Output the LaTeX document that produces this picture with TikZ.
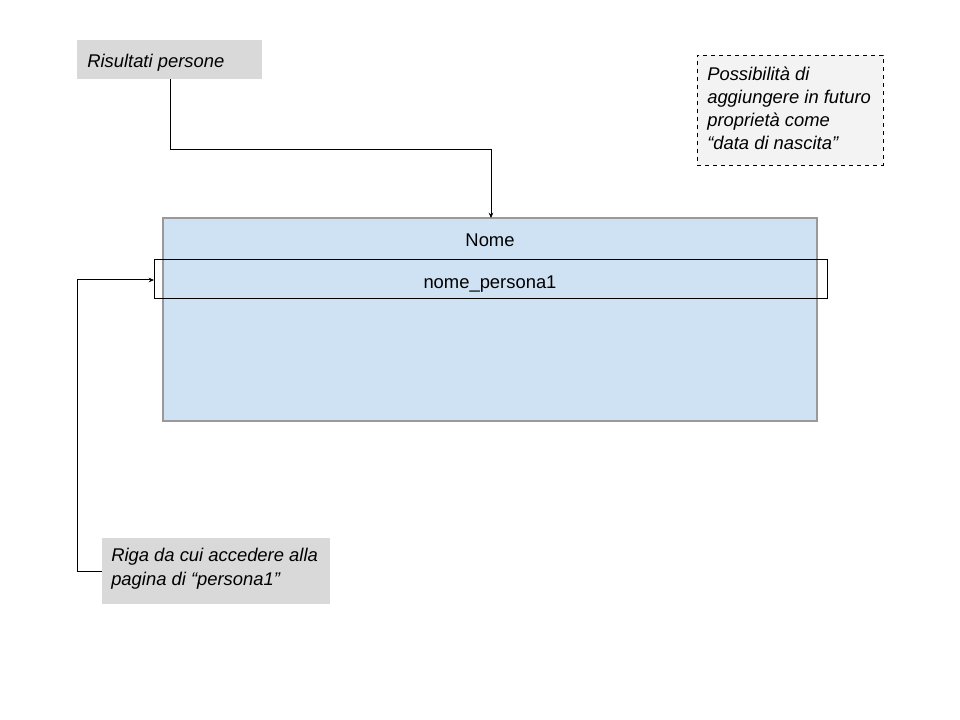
\documentclass[tikz,border=0pt]{standalone}
\usepackage{fontspec}
\setmainfont{Liberation Sans}
\usetikzlibrary{arrows.meta}
\definecolor{greybox}{HTML}{D9D9D9}
\definecolor{notefill}{HTML}{F3F3F3}
\definecolor{tablefill}{HTML}{CFE2F3}
\definecolor{tableborder}{HTML}{999999}
\begin{document}
\begin{tikzpicture}[x=0.75pt,y=-0.75pt,
  labelbox/.style={fill=greybox, draw=none, inner sep=0pt},
  txt/.style={font=\fontsize{13.8}{17.4}\selectfont, inner sep=0pt},
  itxt/.style={font=\fontsize{13.8}{17.4}\selectfont\itshape, inner sep=0pt},
  conn/.style={draw=black, line width=0.75pt, -{Stealth[length=4pt,width=3.5pt]}}]
\useasboundingbox (0,0) rectangle (960,720);
% Risultati persone
\node[labelbox, minimum width=185*0.75pt, minimum height=39*0.75pt] (ris) at (169.5,59.5) {};
\node[itxt, anchor=base west] (ristxt) at (87,67.5) {Risultati persone};
% note
\node[draw=black, dashed, fill=notefill, line width=0.6pt, minimum width=186*0.75pt, minimum height=110*0.75pt, inner sep=0pt] (note) at (790,110) {};
\node[itxt, anchor=base west, align=left] (notetxt) at (707,150) {Possibilità di\\aggiungere in futuro\\proprietà come\\“data di nascita”};
% table
\node[draw=tableborder, fill=tablefill, line width=0.9pt, minimum width=654*0.75pt, minimum height=203*0.75pt, inner sep=0pt] (table) at (490,319.5) {};
\node[txt, anchor=base] (nome) at (490,247) {Nome};
\node[draw=black, line width=0.75pt, minimum width=673*0.75pt, minimum height=39*0.75pt, inner sep=0pt] (row) at (490.5,279.5) {};
\node[txt, anchor=base] (rowtxt) at (490,288) {nome\_persona1};
% Riga box
\node[labelbox, minimum width=228*0.75pt, minimum height=66*0.75pt] (riga) at (216,571) {};
\node[itxt, anchor=base west, align=left] (rigatxt) at (111,585) {Riga da cui accedere alla\\pagina di “persona1”};
% connectors
\coordinate (a1) at (170,79);
\coordinate (a2) at (491,218);
\draw[conn] (a1) -- (170,150) -- (491,150) -- (a2);
\coordinate (b1) at (102,571);
\coordinate (b2) at (154,280);
\draw[conn] (b1) -- (77,571) -- (77,280) -- (b2);
\end{tikzpicture}
\end{document}
